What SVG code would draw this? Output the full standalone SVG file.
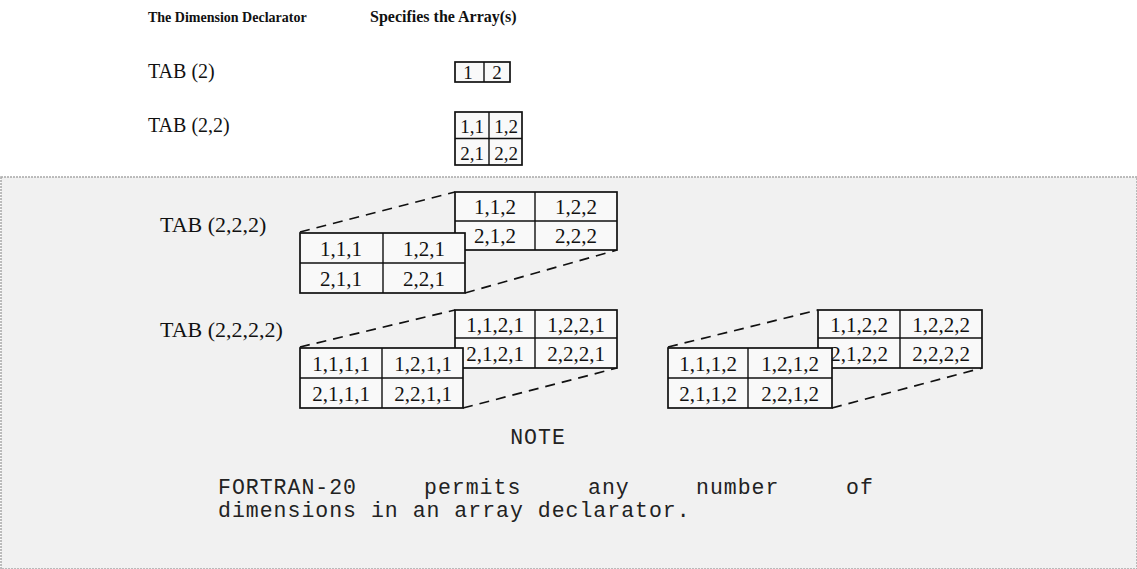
<svg xmlns="http://www.w3.org/2000/svg" width="1137" height="569" viewBox="0 0 1137 569">
<style>
.hdr{font-family:"Liberation Serif",serif;font-weight:bold;fill:#111}
.lbl{font-family:"Liberation Serif",serif;font-size:22px;fill:#111}
.lbl2{font-family:"Liberation Serif",serif;font-size:20px;fill:#111}
.cell{font-family:"Liberation Serif",serif;font-size:21px;fill:#111;text-anchor:middle}
.cs{font-family:"Liberation Serif",serif;font-size:19px;fill:#111;text-anchor:middle}
.box{fill:#f9f9f9;stroke:#111;stroke-width:1.7}
.div{stroke:#111;stroke-width:1.4;fill:none}
.dash{stroke:#111;stroke-width:1.7;stroke-dasharray:10 7;fill:none}
.mono{font-family:"Liberation Mono",monospace;font-size:21.5px;letter-spacing:1px;fill:#222}
</style>
<rect x="0" y="0" width="1137" height="569" fill="#ffffff"/>
<rect id="shade" x="1" y="177" width="1136" height="392" fill="#f1f1f1" stroke="#a8a8a8" stroke-width="1.5" stroke-dasharray="2 1"/>

<g id="headers">
<text class="hdr" x="148" y="22" font-size="14">The Dimension Declarator</text>
<text class="hdr" x="370" y="22" font-size="16">Specifies the Array(s)</text>
</g>

<g id="tab1">
<text class="lbl2" x="148" y="78">TAB (2)</text>
<rect class="box" x="455" y="62" width="55" height="20"/>
<line class="div" x1="484" y1="62" x2="484" y2="82"/>
<text class="cs" x="468" y="79">1</text>
<text class="cs" x="497" y="79">2</text>
</g>

<g id="tab2">
<text class="lbl2" x="148" y="132">TAB (2,2)</text>
<rect class="box" x="455" y="112" width="67" height="53"/>
<line class="div" x1="489" y1="112" x2="489" y2="165"/>
<line class="div" x1="455" y1="138.5" x2="522" y2="138.5"/>
<text class="cs" x="472" y="133">1,1</text>
<text class="cs" x="506" y="133">1,2</text>
<text class="cs" x="472" y="160">2,1</text>
<text class="cs" x="506" y="160">2,2</text>
</g>

<g id="connectors">
<line class="dash" x1="300" y1="232" x2="455" y2="192"/>
<line class="dash" x1="465" y1="293" x2="617" y2="250"/>
<line class="dash" x1="300" y1="347" x2="455" y2="310"/>
<line class="dash" x1="463" y1="408" x2="617" y2="368"/>
<line class="dash" x1="668" y1="347" x2="818" y2="310"/>
<line class="dash" x1="832" y1="408" x2="982" y2="368"/>
</g>

<g id="tab3">
<text class="lbl" x="160" y="232">TAB (2,2,2)</text>
<g id="tab3-back">
<rect class="box" x="455" y="192" width="162" height="58"/>
<line class="div" x1="535" y1="192" x2="535" y2="250"/>
<line class="div" x1="455" y1="221" x2="617" y2="221"/>
<text class="cell" x="495" y="214">1,1,2</text>
<text class="cell" x="576" y="214">1,2,2</text>
<text class="cell" x="495" y="243">2,1,2</text>
<text class="cell" x="576" y="243">2,2,2</text>
</g>
<g id="tab3-front">
<rect class="box" x="300" y="233" width="165" height="60"/>
<line class="div" x1="383" y1="233" x2="383" y2="293"/>
<line class="div" x1="300" y1="263" x2="465" y2="263"/>
<text class="cell" x="341" y="256">1,1,1</text>
<text class="cell" x="424" y="256">1,2,1</text>
<text class="cell" x="341" y="286">2,1,1</text>
<text class="cell" x="424" y="286">2,2,1</text>
</g>
</g>

<g id="tab4">
<text class="lbl" x="160" y="337">TAB (2,2,2,2)</text>
<g id="tab4-back1">
<rect class="box" x="455" y="310" width="162" height="58"/>
<line class="div" x1="535" y1="310" x2="535" y2="368"/>
<line class="div" x1="455" y1="338" x2="617" y2="338"/>
<text class="cell" x="495" y="332">1,1,2,1</text>
<text class="cell" x="576" y="332">1,2,2,1</text>
<text class="cell" x="495" y="361">2,1,2,1</text>
<text class="cell" x="576" y="361">2,2,2,1</text>
</g>
<g id="tab4-front1">
<rect class="box" x="300" y="348" width="163" height="60"/>
<line class="div" x1="382" y1="348" x2="382" y2="408"/>
<line class="div" x1="300" y1="378" x2="463" y2="378"/>
<text class="cell" x="341" y="371">1,1,1,1</text>
<text class="cell" x="423" y="371">1,2,1,1</text>
<text class="cell" x="341" y="401">2,1,1,1</text>
<text class="cell" x="423" y="401">2,2,1,1</text>
</g>
<g id="tab4-back2">
<rect class="box" x="818" y="310" width="164" height="58"/>
<line class="div" x1="900" y1="310" x2="900" y2="368"/>
<line class="div" x1="818" y1="338" x2="982" y2="338"/>
<text class="cell" x="859" y="332">1,1,2,2</text>
<text class="cell" x="941" y="332">1,2,2,2</text>
<text class="cell" x="859" y="361">2,1,2,2</text>
<text class="cell" x="941" y="361">2,2,2,2</text>
</g>
<g id="tab4-front2">
<rect class="box" x="668" y="348" width="164" height="60"/>
<line class="div" x1="748" y1="348" x2="748" y2="408"/>
<line class="div" x1="668" y1="378" x2="832" y2="378"/>
<text class="cell" x="708" y="371">1,1,1,2</text>
<text class="cell" x="790" y="371">1,2,1,2</text>
<text class="cell" x="708" y="401">2,1,1,2</text>
<text class="cell" x="790" y="401">2,2,1,2</text>
</g>
</g>

<g id="note">
<text class="mono" x="538" y="444" text-anchor="middle">NOTE</text>
<text class="mono" y="494"><tspan x="218">FORTRAN-20</tspan><tspan x="424">permits</tspan><tspan x="588">any</tspan><tspan x="696">number</tspan><tspan x="846">of</tspan></text>
<text class="mono" x="218" y="517">dimensions in an array declarator.</text>
</g>
</svg>
